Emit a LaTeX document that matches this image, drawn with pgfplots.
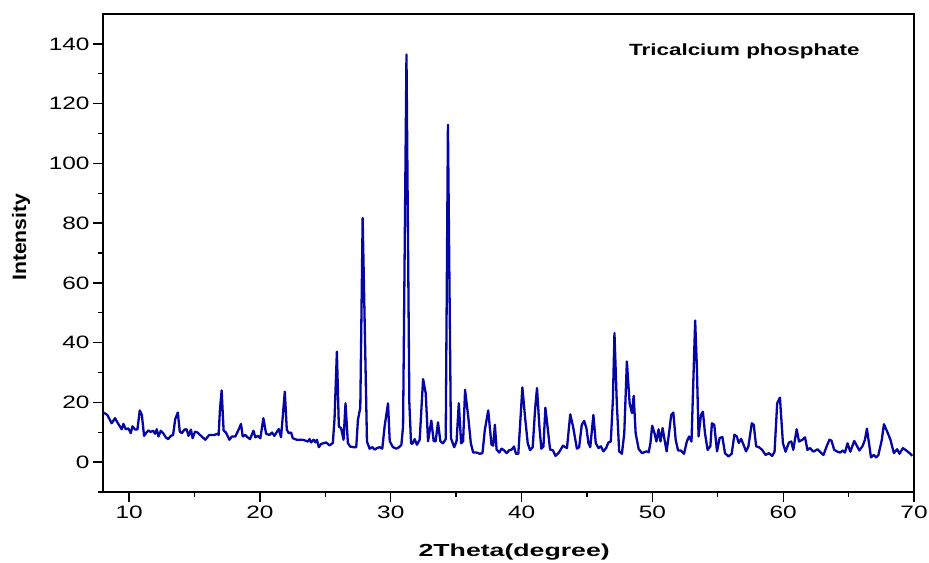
\documentclass[border=0pt]{standalone}
\usepackage{fontspec}
\setmainfont{Liberation Sans}
\usepackage{graphicx}
\usepackage{pgfplots}
\pgfplotsset{compat=1.18}
\usetikzlibrary{calc}
\definecolor{xrd}{RGB}{5,5,165}
\newcommand{\sx}[1]{\scalebox{1.36}[1]{#1}}
\pgfplotstableread{
x y
8.00 16.7
8.33 15.8
8.66 13.0
8.92 14.7
9.17 12.8
9.43 11.0
9.56 12.8
9.74 11.0
9.94 11.3
10.12 9.7
10.25 12.0
10.45 10.9
10.63 10.9
10.81 17.3
10.97 15.8
11.14 8.8
11.32 9.9
11.47 10.6
11.65 10.1
11.83 10.5
11.98 9.5
12.11 11.0
12.24 8.6
12.42 10.5
12.60 9.7
12.80 8.3
12.98 7.7
13.19 8.8
13.36 9.1
13.52 14.4
13.72 16.6
13.87 10.2
14.03 9.7
14.23 10.9
14.39 11.0
14.54 8.8
14.72 10.9
14.85 8.0
15.03 10.2
15.23 9.9
15.49 8.8
15.82 7.5
16.12 9.1
16.51 9.1
16.76 9.5
16.84 9.1
16.94 17.5
17.07 24.0
17.22 10.6
17.40 9.9
17.66 7.5
17.86 8.6
18.12 8.6
18.38 11.0
18.55 12.8
18.68 8.6
18.88 9.1
19.06 8.3
19.24 7.7
19.50 10.5
19.65 8.3
19.83 8.8
20.03 8.0
20.26 14.7
20.47 9.5
20.72 9.1
20.93 9.9
21.10 8.8
21.44 11.1
21.61 8.3
21.90 23.6
22.05 10.9
22.20 9.7
22.38 9.9
22.51 8.0
22.81 7.5
23.27 7.5
23.66 6.9
23.79 7.7
23.91 6.6
24.09 7.5
24.25 6.6
24.35 7.5
24.50 5.0
24.68 6.1
25.06 6.6
25.32 5.6
25.57 6.4
25.70 14.5
25.88 37.0
26.03 11.9
26.20 11.4
26.39 7.5
26.54 19.7
26.72 6.4
26.90 5.2
27.15 5.0
27.36 5.0
27.49 14.2
27.67 18.2
27.85 81.7
28.18 6.9
28.38 4.5
28.59 5.0
28.77 4.2
28.95 4.7
29.15 5.0
29.35 4.5
29.53 12.0
29.79 19.7
29.92 7.0
30.17 5.0
30.43 4.5
30.63 5.0
30.81 5.8
30.94 12.0
31.20 136.4
31.42 19.8
31.55 6.3
31.65 6.1
31.83 7.7
32.00 5.8
32.21 7.5
32.47 27.8
32.67 23.1
32.85 7.0
33.10 13.9
33.28 7.0
33.43 7.0
33.61 13.3
33.79 7.0
33.99 6.3
34.20 7.7
34.37 112.9
34.60 8.0
34.85 5.0
35.03 7.0
35.20 19.7
35.38 6.3
35.53 7.0
35.68 24.2
35.92 15.3
36.12 6.3
36.30 3.2
36.55 3.2
36.81 2.8
37.01 3.0
37.19 10.8
37.45 17.3
37.70 5.8
37.83 5.5
37.96 12.5
38.09 4.2
38.30 3.2
38.47 4.5
38.65 4.0
38.86 3.0
39.06 4.0
39.24 4.2
39.42 5.2
39.57 2.8
39.75 2.8
39.88 12.0
40.06 25.0
40.26 15.3
40.47 6.3
40.65 4.0
40.85 5.0
41.03 17.5
41.18 24.8
41.36 12.0
41.51 4.5
41.67 5.2
41.82 18.2
41.98 12.0
42.18 4.2
42.39 4.0
42.59 2.1
42.82 3.0
43.03 4.5
43.16 5.5
43.47 4.7
43.72 16.0
43.93 12.0
44.23 4.5
44.40 5.0
44.60 12.5
44.78 13.8
44.95 11.5
45.11 6.4
45.25 5.0
45.49 15.8
45.67 6.4
45.88 4.7
46.06 5.3
46.26 3.6
46.46 4.7
46.64 6.6
46.82 6.9
46.98 20.8
47.10 43.2
47.28 19.7
47.46 3.6
47.67 2.8
47.85 9.7
48.05 33.7
48.26 19.7
48.44 16.4
48.57 22.2
48.72 9.7
48.95 4.4
49.21 3.0
49.54 3.6
49.72 3.3
49.85 6.4
49.98 12.2
50.16 9.7
50.31 6.9
50.47 11.0
50.62 6.9
50.78 11.4
50.93 7.5
51.09 3.6
51.27 9.7
51.44 15.8
51.60 16.6
51.78 7.5
51.96 3.9
52.16 3.9
52.42 2.8
52.63 6.9
52.81 8.6
52.99 6.9
53.14 28.6
53.27 47.4
53.40 31.8
53.53 8.6
53.71 15.8
53.86 16.9
54.02 9.7
54.22 4.1
54.43 5.3
54.55 13.0
54.73 12.5
54.94 3.6
55.14 8.1
55.35 8.4
55.55 3.0
55.81 1.9
56.06 2.8
56.27 9.2
56.45 8.6
56.60 6.4
56.78 7.8
56.96 5.9
57.16 3.6
57.34 5.3
57.60 13.0
57.75 12.5
57.93 5.3
58.14 5.0
58.39 4.1
58.65 2.4
58.90 3.0
59.16 2.1
59.34 3.5
59.54 19.7
59.75 21.6
59.98 6.3
60.18 3.5
60.44 6.6
60.62 6.9
60.77 4.1
61.03 11.0
61.21 6.9
61.47 7.5
61.67 8.3
61.85 4.1
62.05 4.7
62.31 3.5
62.62 4.3
62.87 3.2
63.08 2.4
63.33 5.4
63.54 7.5
63.69 7.2
63.90 4.1
64.15 3.5
64.36 3.2
64.54 3.9
64.72 3.2
64.92 6.3
65.13 3.5
65.43 7.1
65.64 5.4
65.82 3.9
66.07 5.4
66.25 7.5
66.40 11.2
66.58 5.7
66.71 1.6
66.92 2.4
67.10 1.6
67.28 2.4
67.54 7.5
67.70 12.7
67.95 10.2
68.20 7.5
68.46 3.0
68.71 4.3
68.89 2.8
69.15 4.7
69.41 3.9
69.66 3.0
69.87 2.1
}\xrddata
\begin{document}
\begin{tikzpicture}
\begin{axis}[
  name=ax,
  scale only axis,
  width=811bp, height=478bp,
  xmin=8, xmax=70, ymin=-10, ymax=150,
  xtick={10,20,...,70}, minor xtick={15,25,...,65},
  ytick={0,20,...,140}, minor ytick={-10,10,30,50,70,90,110,130},
  tick align=outside, tick pos=left,
  major tick length=10bp, minor tick length=5bp,
  axis line style={line width=1.8bp, black},
  every tick/.style={black, line width=1.4bp},
  /pgf/number format/assume math mode=true,
  xticklabel={\sx{\pgfmathprintnumber{\tick}}},
  yticklabel={\sx{\pgfmathprintnumber{\tick}}},
  tick label style={font=\fontsize{18}{20}\selectfont},
  xlabel={\scalebox{1.53}[1]{\fontsize{17.5}{20}\selectfont\bfseries 2Theta(degree)}},
  xlabel style={at={(rel axis cs:0.507,-0.134)}, anchor=base},
  ylabel={\scalebox{1.33}[1.22]{\fontsize{16}{18}\selectfont\bfseries Intensity}},
  ylabel style={at={(rel axis cs:-0.101,0.533)}, anchor=center},
]
\addplot[xrd, line width=2.3bp, line join=round] table[x=x, y=y] {\xrddata};
\node[anchor=base west, inner sep=0pt] at (rel axis cs:0.6486,0.914)
  {\scalebox{1.38}[1]{\fontsize{16.3}{19}\selectfont\bfseries Tricalcium phosphate}};
\end{axis}
\pgfresetboundingbox
\path ($(ax.south west)+(-103bp,-70bp)$) rectangle ($(ax.north east)+(15bp,14bp)$);
\end{tikzpicture}
\end{document}
